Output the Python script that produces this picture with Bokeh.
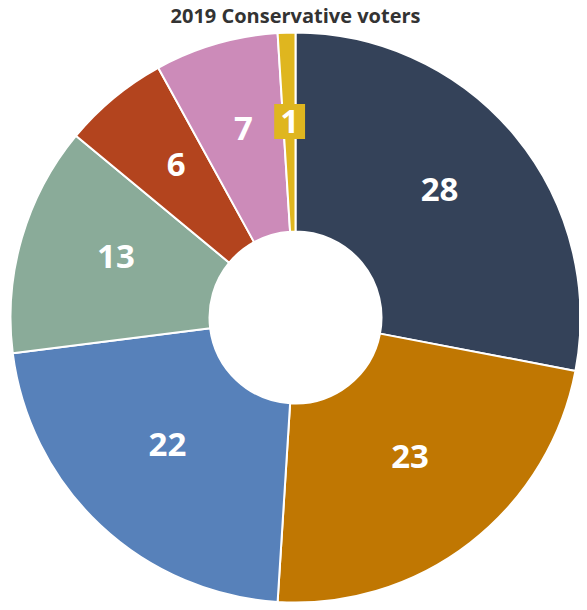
import math
from bokeh.plotting import figure
from bokeh.models import Range1d, ColumnDataSource
from bokeh.core.properties import value
from bokeh.embed import file_html
from bokeh.resources import INLINE

# ---- data ----
title_text = "2019 Conservative voters"
segments = ["s1", "s2", "s3", "s4", "s5", "s6", "s7"]
values = [28, 23, 22, 13, 6, 7, 1]
colors = ["#344259", "#c07702", "#5781ba", "#8aab99", "#b3441e", "#cc8bb9", "#dfb61f"]
labels = [str(v) for v in values]

# ---- layout ----
W, H = 579, 602
CX, CY = 295, 285
R_OUT, R_IN = 285, 86
R_LAB = 187
LAB_LIFT = 9
FONT = "Open Sans"

total = float(sum(values))
starts, ends, lx, ly = [], [], [], []
cum = 0.0
for v in values:
    a0 = math.pi / 2 - 2 * math.pi * (cum + v) / total
    a1 = math.pi / 2 - 2 * math.pi * cum / total
    starts.append(a0)
    ends.append(a1)
    mid = (a0 + a1) / 2
    lx.append(CX + R_LAB * math.cos(mid))
    ly.append(CY + R_LAB * math.sin(mid) + LAB_LIFT)
    cum += v

src = ColumnDataSource(dict(seg=segments, val=values, color=colors, label=labels,
                            start=starts, end=ends, lx=lx, ly=ly))

p = figure(width=W, height=H, x_range=Range1d(0, W), y_range=Range1d(0, H),
           output_backend="svg", toolbar_location=None, min_border=0)
p.axis.visible = False
p.grid.visible = False
p.outline_line_color = None
p.background_fill_color = "white"
p.border_fill_color = "white"

p.annular_wedge(x=CX, y=CY, inner_radius=R_IN, outer_radius=R_OUT,
                start_angle="start", end_angle="end", direction="anticlock",
                fill_color="color", line_color="white", line_width=2, source=src)

# labels (all but the tiny last slice)
main = ColumnDataSource(dict(x=lx[:-1], y=ly[:-1], t=labels[:-1]))
p.text(x="x", y="y", text="t", source=main, text_color="white",
       text_font=value(FONT), text_font_style="bold", text_font_size="33px",
       text_align="center", text_baseline="middle")

small = ColumnDataSource(dict(x=lx[-1:], y=ly[-1:], t=labels[-1:]))
p.text(x="x", y="y", text="t", source=small, text_color="white",
       text_font=value(FONT), text_font_style="bold", text_font_size="33px",
       text_align="center", text_baseline="middle",
       background_fill_color=colors[-1], padding=6)

# title
p.text(x=[CX], y=[H - 1], text=[title_text], text_color="#333333",
       text_font=value(FONT), text_font_style="bold", text_font_size="20px",
       text_align="center", text_baseline="top")

open("out.html", "w").write(file_html(p, INLINE))
